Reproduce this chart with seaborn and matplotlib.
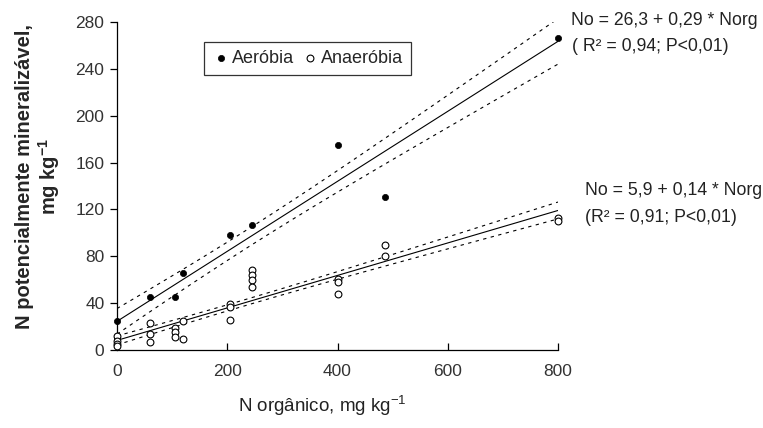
import numpy as np
import seaborn as sns
import matplotlib.pyplot as plt

# valores (N orgânico x N potencialmente mineralizável)
aer_x = [0, 0, 60, 105, 120, 205, 244, 400, 487, 800]
aer_y = [25, 10, 45, 45, 66, 98, 107, 175, 131, 266]
ana_x = [0, 0, 0, 0, 60, 60, 60, 105, 105, 105, 120, 120, 205, 205, 205,
         244, 244, 244, 244, 400, 400, 400, 487, 487, 800, 800]
ana_y = [12, 8, 5, 3, 23, 14, 7, 19, 15, 11, 25, 9, 39, 37, 26,
         68, 64, 60, 54, 61, 58, 48, 90, 80, 113, 110]

eq_aer = ['No = 26,3 + 0,29 * Norg', '( R² = 0,94; P<0,01)']
eq_ana = ['No = 5,9 + 0,14 * Norg', '(R² = 0,91; P<0,01)']

xticks = [0, 200, 400, 600, 800]
yticks = [0, 40, 80, 120, 160, 200, 240, 280]

sns.set_style('white')
plt.rcParams['font.family'] = ['Liberation Sans', 'DejaVu Sans']
plt.rcParams['mathtext.fontset'] = 'custom'
plt.rcParams['mathtext.rm'] = 'Liberation Sans'
plt.rcParams['mathtext.bf'] = 'Liberation Sans:bold'
plt.rcParams['mathtext.default'] = 'regular'

fig = plt.figure(figsize=(7.63, 4.28), dpi=100)
ax = fig.add_axes([117 / 763, 1 - 350 / 428, 441 / 763, 328 / 428])


def ci_band(x, y, grid):
    # intervalo de confiança (~75%) da reta ajustada
    x = np.asarray(x, float)
    y = np.asarray(y, float)
    n = len(x)
    b, a = np.polyfit(x, y, 1)
    res = y - (a + b * x)
    s = np.sqrt(np.sum(res ** 2) / (n - 2))
    sxx = np.sum((x - x.mean()) ** 2)
    se = s * np.sqrt(1 / n + (grid - x.mean()) ** 2 / sxx)
    t = 1.24 if n < 15 else 1.18
    fit = a + b * grid
    return fit - t * se, fit + t * se


grid = np.linspace(0, 800, 100)
for xs, ys in [(aer_x, aer_y), (ana_x, ana_y)]:
    sns.regplot(x=xs, y=ys, scatter=False, ci=None, ax=ax,
                line_kws=dict(color='black', lw=0.8))
    lo, hi = ci_band(xs, ys, grid)
    for band in (lo, hi):
        ax.plot(grid, band, color='black', lw=0.8, dashes=(3, 4))

sns.scatterplot(x=aer_x, y=aer_y, ax=ax, color='black', marker='o', s=20,
                edgecolor='black', linewidth=0.5, label='Aeróbia', zorder=3,
                clip_on=False)
sns.scatterplot(x=ana_x, y=ana_y, ax=ax, marker='o', s=24, facecolor='white',
                edgecolor='black', linewidth=0.8, label='Anaeróbia', zorder=3,
                clip_on=False)

ax.set_xlim(0, 800)
ax.set_ylim(0, 280)
ax.set_xticks(xticks)
ax.set_yticks(yticks)
sns.despine(ax=ax)
for sp in ['left', 'bottom']:
    ax.spines[sp].set_color('black')
    ax.spines[sp].set_linewidth(0.9)
ax.tick_params(axis='y', direction='out', length=5, width=0.9, color='black',
               labelsize=12.5, labelcolor='#333333', left=True, pad=4)
ax.tick_params(axis='x', direction='in', length=5, width=0.9, color='black',
               labelsize=12.5, labelcolor='#333333', bottom=True, pad=10)

ax.set_ylabel('N potencialmente mineralizável,\nmg kg$^{\\mathbf{-1}}$',
              fontsize=14.5, fontweight='bold', linespacing=1.1)
ax.yaxis.set_label_coords(-0.125, 0.53)
ax.set_xlabel('N orgânico, mg kg$^{-1}$', fontsize=13.5, color='#222222')
ax.xaxis.set_label_coords(0.465, -0.135)

leg = ax.legend(loc='upper left', bbox_to_anchor=(0.197, 0.939), ncol=2,
                frameon=True, fancybox=False, edgecolor='black', fontsize=13,
                handletextpad=0.1, columnspacing=0.4, borderpad=0.45,
                borderaxespad=0, handlelength=1.0, markerscale=1.0)
leg.get_frame().set_linewidth(0.9)

ax.text(823, 281.5, eq_aer[0], fontsize=12.7, color='#222222', va='center', clip_on=False)
ax.text(826, 259.5, eq_aer[1], fontsize=12.7, color='#222222', va='center', clip_on=False)
ax.text(849, 136.5, eq_ana[0], fontsize=12.7, color='#222222', va='center', clip_on=False)
ax.text(849, 113, eq_ana[1], fontsize=12.7, color='#222222', va='center', clip_on=False)

fig.savefig('out.png', dpi=100)
